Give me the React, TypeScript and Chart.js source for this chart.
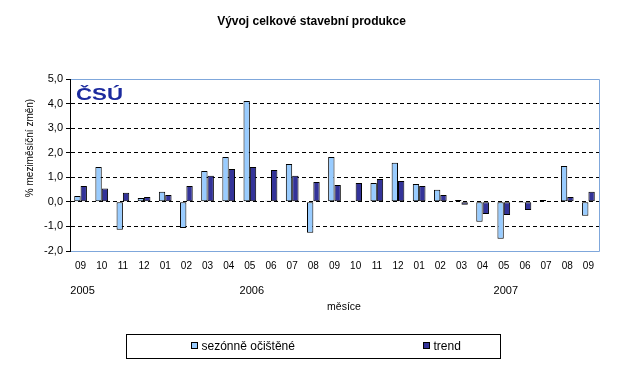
import React, { useEffect, useRef } from "react";
import { Chart, registerables } from "chart.js";

Chart.register(...registerables);

const months = ["09","10","11","12","01","02","03","04","05","06","07","08","09","10","11","12","01","02","03","04","05","06","07","08","09"];
const years = ["2005","","","","","","","","2006","","","","","","","","","","","","2007","","","",""];
const seasonal = [0.24,1.42,-1.14,0.16,0.41,-1.06,1.26,1.83,4.1,0.04,1.54,-1.26,1.83,0.04,0.77,1.59,0.73,0.49,0.08,-0.81,-1.5,-0.04,0.08,1.46,-0.57];
const trend = [0.65,0.54,0.37,0.2,0.28,0.65,1.06,1.34,1.42,1.3,1.06,0.81,0.69,0.77,0.93,0.85,0.65,0.28,-0.12,-0.49,-0.53,-0.33,null,0.2,0.41];
const yTicks = [-2,-1,0,1,2,3,4,5];

const FONT = "Arial, 'Liberation Sans', sans-serif";
const LIGHT = "#99CCFF";
const DARK = "#333399";
const FRAME = "#7FA7DB";

const extras = {
  id: "extras",
  afterDraw(chart: any) {
    const ctx = chart.ctx as CanvasRenderingContext2D;
    const a = chart.chartArea;
    const xs = chart.scales.x;
    ctx.save();
    ctx.strokeStyle = FRAME;
    ctx.lineWidth = 1;
    ctx.beginPath();
    ctx.moveTo(Math.round(a.left) + 0.5, Math.round(a.top) + 0.5);
    ctx.lineTo(Math.round(a.right) + 0.5, Math.round(a.top) + 0.5);
    ctx.lineTo(Math.round(a.right) + 0.5, Math.round(a.bottom) + 0.5);
    ctx.lineTo(Math.round(a.left) + 0.5, Math.round(a.bottom) + 0.5);
    ctx.stroke();
    ctx.strokeStyle = "#000";
    ctx.beginPath();
    ctx.moveTo(Math.round(a.left) + 0.5, Math.round(a.top));
    ctx.lineTo(Math.round(a.left) + 0.5, Math.round(a.bottom) + 1);
    ctx.stroke();

    ctx.fillStyle = "#000";
    ctx.font = `bold 12px ${FONT}`;
    ctx.textAlign = "center";
    ctx.textBaseline = "middle";
    ctx.fillText("Vývoj celkové stavební produkce", 311.5, 22);

    ctx.font = `11px ${FONT}`;
    years.forEach((y, i) => {
      if (!y) return;
      ctx.fillText(y, xs.getPixelForValue(i) + 2, 291);
    });
    ctx.font = `10.5px ${FONT}`;
    ctx.fillText("měsíce", 344, 307);

    ctx.save();
    ctx.translate(30, 148);
    ctx.rotate(-Math.PI / 2);
    ctx.font = `10px ${FONT}`;
    ctx.fillText("% meziměsíční změn)", 0, 0);
    ctx.restore();

    ctx.save();
    ctx.fillStyle = "#1B2A9E";
    ctx.font = `bold 17px ${FONT}`;
    ctx.textAlign = "left";
    ctx.textBaseline = "alphabetic";
    const w = ctx.measureText("ČSÚ").width;
    ctx.translate(76, 99.5);
    ctx.scale(47 / w, 1);
    ctx.fillText("ČSÚ", 0, 0);
    ctx.restore();

    ctx.strokeStyle = "#000";
    ctx.lineWidth = 1;
    ctx.strokeRect(126.5, 334.5, 374, 24);
    const items = [
      { x: 191.5, color: LIGHT, label: chart.data.datasets[0].label },
      { x: 423.5, color: DARK, label: chart.data.datasets[1].label },
    ];
    ctx.font = `12px ${FONT}`;
    ctx.textAlign = "left";
    ctx.textBaseline = "middle";
    items.forEach((it) => {
      ctx.fillStyle = it.color;
      ctx.fillRect(it.x, 342.5, 6, 6);
      ctx.strokeRect(it.x, 342.5, 6, 6);
      ctx.fillStyle = "#000";
      ctx.fillText(it.label, it.x + 10, 346.5);
    });
    ctx.restore();
  },
};

export default function App() {
  const ref = useRef<HTMLCanvasElement>(null);
  useEffect(() => {
    const chart = new Chart(ref.current!, {
      type: "bar",
      data: {
        labels: months,
        datasets: [
          { label: "sezónně očištěné", data: seasonal, backgroundColor: LIGHT, borderColor: "#000", borderWidth: 1, borderSkipped: false, categoryPercentage: 0.6, barPercentage: 1 },
          { label: "trend", data: trend, backgroundColor: DARK, borderColor: "#000", borderWidth: 1, borderSkipped: false, categoryPercentage: 0.6, barPercentage: 1 },
        ],
      },
      plugins: [extras],
      options: {
        responsive: false,
        animation: false,
        devicePixelRatio: 1,
        layout: { padding: { top: 79, right: 26, left: 0, bottom: 0 } },
        plugins: { legend: { display: false }, tooltip: { enabled: false }, title: { display: false } },
        scales: {
          x: {
            grid: { display: false, drawTicks: false },
            border: { display: false },
            ticks: { color: "#000", font: { family: FONT, size: 10 }, padding: 9, maxRotation: 0, autoSkip: false },
            afterFit: (s: any) => { s.height = 117; },
          },
          y: {
            min: -2,
            max: 5,
            afterBuildTicks: (s: any) => { s.ticks = yTicks.map((v) => ({ value: v })); },
            ticks: {
              color: "#000",
              font: { family: FONT, size: 11 },
              padding: 3,
              callback: (v: any) => Number(v).toFixed(1).replace(".", ","),
            },
            grid: {
              color: (c: any) => (c.tick && (c.tick.value === 5 || c.tick.value === -2) ? "rgba(0,0,0,0)" : "#000"),
              tickColor: "#000",
              tickLength: 4,
              lineWidth: 1,
            },
            border: { display: true, color: "#000", width: 1, dash: [4, 3] },
            afterFit: (s: any) => { s.width = 70; },
          },
        },
      },
    });
    return () => chart.destroy();
  }, []);
  return (
    <div style={{ position: "absolute", left: 0, top: 0, width: 625, height: 368, background: "#fff" }}>
      <canvas ref={ref} width={625} height={368} />
    </div>
  );
}
